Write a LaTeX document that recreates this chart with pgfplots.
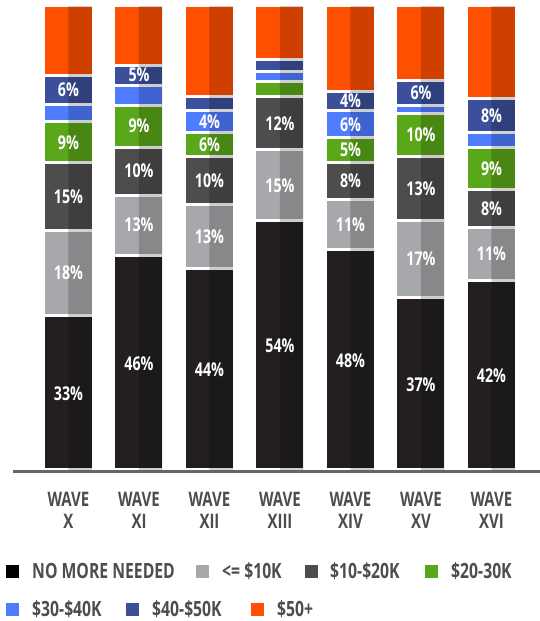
\documentclass[border=0pt]{standalone}
\usepackage{fontspec}
\setmainfont{Open Sans}[FakeStretch=0.75, BoldFont={Open Sans Bold}]
\usepackage{pgfplots}
\pgfplotsset{compat=1.18}
\usepackage{pgfplotstable}

\definecolor{cNone}{HTML}{231F20}
\definecolor{cLe10}{HTML}{A7A8AB}
\definecolor{c1020}{HTML}{4D4D4D}
\definecolor{c2030}{HTML}{5AA71A}
\definecolor{c3040}{HTML}{4F7CFF}
\definecolor{c4050}{HTML}{3B4F9B}
\definecolor{c50}{HTML}{FF4F00}
\definecolor{cTxt}{HTML}{4D4D4D}
\definecolor{cBase}{HTML}{666666}

% shares of each wave, bottom to top, with the printed labels
\pgfplotstableread[col sep=comma]{
w,none,le10,a1020,a2030,a3040,a4050,a50,Lnone,Lle10,La1020,La2030,La3040,La4050,La50
0,33.5,18.2,14.6,8.7,3.7,6.3,15.0,33\%,18\%,15\%,9\%,,6\%,15\%
1,46.4,12.9,10.3,9.0,4.3,4.3,12.8,46\%,13\%,10\%,9\%,,5\%,13\%
2,43.5,13.9,10.1,5.3,4.7,3.0,19.5,44\%,13\%,10\%,6\%,4\%,,19\%
3,53.8,15.2,11.4,3.3,2.1,2.6,11.6,54\%,15\%,12\%,,,,12\%
4,47.7,10.6,8.1,5.2,5.8,4.2,18.4,48\%,11\%,8\%,5\%,6\%,4\%,19\%
5,37.4,16.4,13.7,9.4,1.7,5.2,16.2,37\%,17\%,13\%,10\%,,6\%,16\%
6,41.0,11.3,8.2,9.0,3.2,7.3,20.0,42\%,11\%,8\%,9\%,,8\%,20\%
}\waves

\pgfplotsset{wavegrid/.style={
  x=70.5pt, y=4.66pt,
  xmin=-0.787, xmax=6.69, ymin=0.32, ymax=99.68,
  at={(13pt,151pt)}, anchor=south west,
  ybar stacked,
}}

\begin{document}
\begin{tikzpicture}
\path[use as bounding box] (0,0) rectangle (540pt,621pt);

\begin{axis}[wavegrid,
  bar width=50pt,
  axis line style={draw=none},
  ytick=\empty,
  xtick={0,...,6},
  xticklabels={{WAVE\\X},{WAVE\\XI},{WAVE\\XII},{WAVE\\XIII},{WAVE\\XIV},{WAVE\\XV},{WAVE\\XVI}},
  xticklabel style={align=center, anchor=north, inner sep=0pt, yshift=-22pt,
    text=cTxt, font=\fontsize{20}{22}\selectfont\bfseries},
  major tick length=0pt,
  every axis plot/.append style={draw=white, line width=3pt},
]
\addplot[fill=cNone] table[x=w, y=none]{\waves};
\addplot[fill=cLe10] table[x=w, y=le10]{\waves};
\addplot[fill=c1020] table[x=w, y=a1020]{\waves};
\addplot[fill=c2030] table[x=w, y=a2030]{\waves};
\addplot[fill=c3040] table[x=w, y=a3040]{\waves};
\addplot[fill=c4050] table[x=w, y=a4050]{\waves};
\addplot[fill=c50] table[x=w, y=a50]{\waves};
\coordinate (b0) at (axis cs:-0.787,0);
\coordinate (b1) at (axis cs:6.69,0);
\end{axis}

% darker right half of every bar, and the labels on top
\begin{axis}[wavegrid,
  hide axis,
  bar width=23.5pt, bar shift=11.75pt,
  point meta=explicit symbolic,
  nodes near coords={\pgfplotspointmeta},
  every node near coord/.append style={anchor=center, xshift=-11.75pt,
    text=white, text opacity=1,
    font=\fontsize{19}{19}\selectfont\bfseries},
]
\addplot[fill=black, fill opacity=0.19, draw=none] table[x=w, y=none, meta=Lnone]{\waves};
\addplot[fill=black, fill opacity=0.19, draw=none] table[x=w, y=le10, meta=Lle10]{\waves};
\addplot[fill=black, fill opacity=0.19, draw=none] table[x=w, y=a1020, meta=La1020]{\waves};
\addplot[fill=black, fill opacity=0.19, draw=none] table[x=w, y=a2030, meta=La2030]{\waves};
\addplot[fill=black, fill opacity=0.19, draw=none] table[x=w, y=a3040, meta=La3040]{\waves};
\addplot[fill=black, fill opacity=0.19, draw=none] table[x=w, y=a4050, meta=La4050]{\waves};
\addplot[fill=black, fill opacity=0.19, draw=none] table[x=w, y=a50, meta=La50]{\waves};
\end{axis}

\draw[line width=3pt, cBase] (b0) -- (b1);

% legend
\begin{scope}[every node/.style={anchor=base west, inner sep=0pt, text=cTxt,
    font=\fontsize{21}{21}\selectfont\bfseries}]
\fill[black] (6pt,42.5pt) rectangle +(13pt,13pt);
\node at (32pt,42pt) {NO MORE NEEDED};
\fill[cLe10] (196pt,42.5pt) rectangle +(13pt,13pt);
\node at (222pt,42pt) {<= \$10K};
\fill[c1020] (305pt,42.5pt) rectangle +(13pt,13pt);
\node at (330pt,42pt) {\$10-\$20K};
\fill[c2030] (425pt,42.5pt) rectangle +(13pt,13pt);
\node at (451pt,42pt) {\$20-30K};
\fill[c3040] (6pt,4.5pt) rectangle +(13pt,13pt);
\node at (32pt,5pt) {\$30-\$40K};
\fill[c4050] (126pt,4.5pt) rectangle +(13pt,13pt);
\node at (152pt,5pt) {\$40-\$50K};
\fill[c50] (251pt,4.5pt) rectangle +(13pt,13pt);
\node at (277pt,5pt) {\$50+};
\end{scope}
\end{tikzpicture}
\end{document}
